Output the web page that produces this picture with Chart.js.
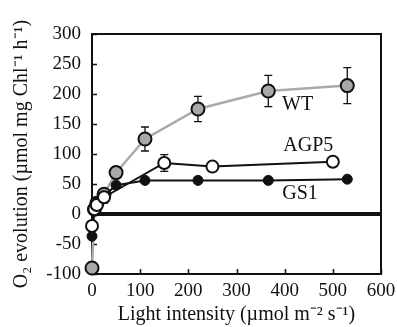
<!DOCTYPE html>
<html>
<head>
<meta charset="utf-8">
<script src="https://cdn.jsdelivr.net/npm/chart.js@4.4.1/dist/chart.umd.min.js"></script>
<style>
  html, body { margin: 0; padding: 0; background: #fff; }
  #wrap { width: 397px; height: 327px; }
</style>
</head>
<body>
<div id="wrap"><canvas id="c" width="397" height="327"></canvas></div>
<script>
// values
const wtLight = [0, 5, 10, 25, 50, 110, 220, 366, 530];
const wtRate = [-90, 8, 18, 33, 69, 125, 175, 205, 214];
const wtErr = [0, 0, 0, 8, 0, 20, 21, 26, 30];

const agpLight = [0, 5, 10, 25, 150, 250, 500];
const agpRate = [-20, 8, 15, 28, 85, 79, 87];
const agpErr = [0, 0, 0, 10, 14, 0, 0];

const gsLight = [0, 5, 10, 25, 50, 110, 220, 366, 530];
const gsRate = [-37, 8, 18, 30, 48, 56, 56, 56, 58];
const gsErr = [0, 0, 0, 0, 0, 0, 5, 0, 0];

const xTicks = [0, 100, 200, 300, 400, 500, 600];
const yTicks = [-100, -50, 0, 50, 100, 150, 200, 250, 300];

// where the series names sit, in data units
const seriesNames = ["WT", "AGP5", "GS1"];
const namePos = [[427, 182], [449, 113], [432, 33]];

const FONT = "'Liberation Serif', 'Times New Roman', serif";

function pts(xs, ys) {
    return xs.map((x, i) => ({ x: x, y: ys[i] }));
}

const errSets = [wtErr, agpErr, gsErr];

// box, zero line, inward ticks, error bars, series names
const decorations = {
    id: "decorations",
    beforeDatasetsDraw(chart) {
        const ctx = chart.ctx;
        const a = chart.chartArea;
        const xs = chart.scales.x, ys = chart.scales.y;
        ctx.save();
        ctx.strokeStyle = "#111";
        ctx.lineWidth = 2;
        ctx.strokeRect(a.left, a.top, a.right - a.left, a.bottom - a.top);
        ctx.lineWidth = 1.5;
        ctx.beginPath();
        yTicks.forEach(v => {
            const y = Math.round(ys.getPixelForValue(v)) + 0.5;
            ctx.moveTo(a.left, y);
            ctx.lineTo(a.left + 5, y);
        });
        xTicks.forEach(v => {
            const x = Math.round(xs.getPixelForValue(v)) + 0.5;
            ctx.moveTo(x, a.bottom);
            ctx.lineTo(x, a.bottom - 5);
        });
        ctx.stroke();
        const y0 = ys.getPixelForValue(0);
        ctx.lineWidth = 4;
        ctx.beginPath();
        ctx.moveTo(a.left, y0);
        ctx.lineTo(a.right, y0);
        ctx.stroke();

        // error bars
        ctx.lineWidth = 1.3;
        chart.data.datasets.forEach((ds, di) => {
            const err = errSets[di];
            ds.data.forEach((p, i) => {
                if (!err[i]) return;
                const x = xs.getPixelForValue(p.x);
                const yt = ys.getPixelForValue(p.y + err[i]);
                const yb = ys.getPixelForValue(p.y - err[i]);
                ctx.beginPath();
                ctx.moveTo(x, yt); ctx.lineTo(x, yb);
                ctx.moveTo(x - 4, yt); ctx.lineTo(x + 4, yt);
                ctx.moveTo(x - 4, yb); ctx.lineTo(x + 4, yb);
                ctx.stroke();
            });
        });
        ctx.restore();
    },
    afterDatasetsDraw(chart) {
        const ctx = chart.ctx;
        const xs = chart.scales.x, ys = chart.scales.y;
        ctx.save();
        ctx.fillStyle = "#111";
        ctx.font = "20px " + FONT;
        ctx.textAlign = "center";
        ctx.textBaseline = "middle";
        seriesNames.forEach((n, i) => {
            ctx.fillText(n, xs.getPixelForValue(namePos[i][0]), ys.getPixelForValue(namePos[i][1]));
        });
        ctx.restore();
    }
};

new Chart(document.getElementById("c"), {
    type: "line",
    data: {
        datasets: [
            {
                label: "WT",
                data: pts(wtLight, wtRate),
                borderColor: "#aaaaaa",
                borderWidth: 2.5,
                pointRadius: 6.5,
                pointBackgroundColor: "#a8a8a8",
                pointBorderColor: "#111",
                pointBorderWidth: 2,
                order: 3
            },
            {
                label: "AGP5",
                data: pts(agpLight, agpRate),
                borderColor: "#111",
                borderWidth: 2,
                pointRadius: 6,
                pointBackgroundColor: "#fff",
                pointBorderColor: "#111",
                pointBorderWidth: 2,
                order: 1
            },
            {
                label: "GS1",
                data: pts(gsLight, gsRate),
                borderColor: "#111",
                borderWidth: 2,
                pointRadius: 5,
                pointBackgroundColor: "#111",
                pointBorderColor: "#111",
                pointBorderWidth: 1,
                order: 2
            }
        ]
    },
    options: {
        responsive: false,
        animation: false,
        clip: false,
        layout: { padding: { top: 34, right: 16, left: 0, bottom: 0 } },
        plugins: { legend: { display: false }, tooltip: { enabled: false } },
        scales: {
            x: {
                type: "linear",
                min: 0, max: 600,
                afterBuildTicks: s => { s.ticks = xTicks.map(v => ({ value: v })); },
                afterFit: s => { s.height = 53; s.paddingLeft = 0; s.paddingRight = 0; },
                grid: { display: false, drawTicks: false },
                border: { display: false },
                ticks: { color: "#111", font: { family: FONT, size: 19 }, padding: 6, maxRotation: 0 },
                title: { display: true, text: "Light intensity (\u00b5mol m\u207b\u00b2 s\u207b\u00b9)", color: "#111", font: { family: FONT, size: 20 }, padding: { top: 0, bottom: 0 } }
            },
            y: {
                min: -100, max: 300,
                afterBuildTicks: s => { s.ticks = yTicks.map(v => ({ value: v })); },
                afterFit: s => { s.width = 92; s.paddingTop = 0; s.paddingBottom = 0; },
                grid: { display: false, drawTicks: false },
                border: { display: false },
                ticks: { color: "#111", font: { family: FONT, size: 19 }, padding: 11 },
                title: { display: true, text: "O\u2082 evolution (\u00b5mol mg Chl\u207b\u00b9 h\u207b\u00b9)", color: "#111", font: { family: FONT, size: 20 }, padding: { top: 10, bottom: 0 } }
            }
        }
    },
    plugins: [decorations]
});
</script>
</body>
</html>
